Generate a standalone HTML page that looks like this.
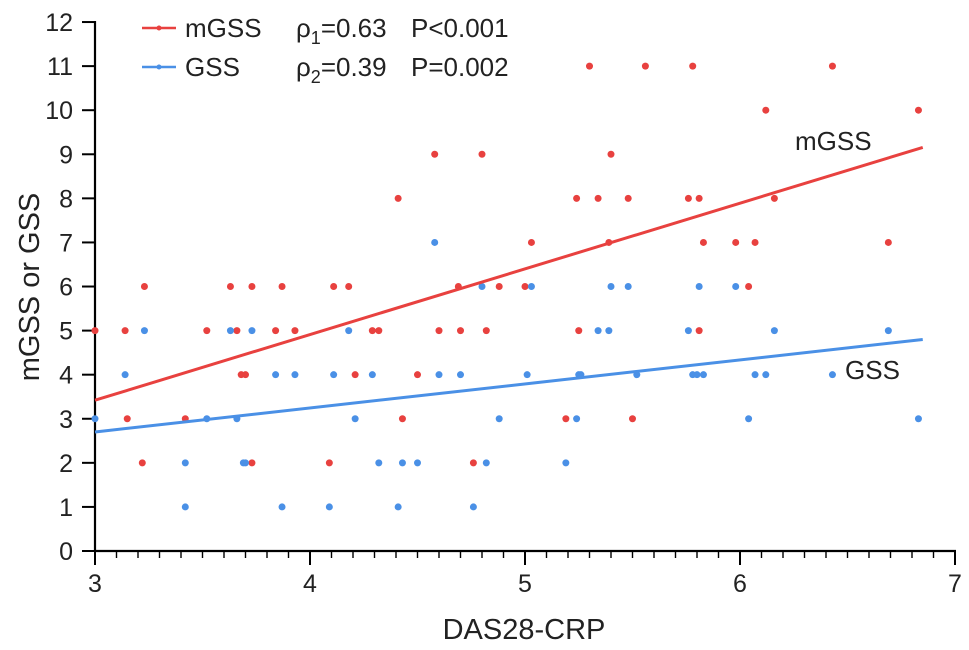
<!DOCTYPE html>
<html><head><meta charset="utf-8"><style>
html,body{margin:0;padding:0;background:#fff;}
svg{display:block;font-family:"Liberation Sans",Arial,sans-serif;}
</style></head><body>
<svg id="chart" width="969" height="650" viewBox="0 0 969 650"></svg>
<script>
const xTicks=[3,4,5,6,7];
const yTicks=[0,1,2,3,4,5,6,7,8,9,10,11,12];
const mgssX=[3.0,3.14,3.15,3.22,3.23,3.42,3.52,3.63,3.66,3.68,3.70,3.73,3.73,3.84,3.87,3.93,4.09,4.11,4.18,4.21,4.29,4.32,4.41,4.43,4.50,4.58,4.60,4.69,4.70,4.76,4.80,4.82,4.88,5.00,5.03,5.19,5.24,5.25,5.30,5.34,5.39,5.40,5.48,5.50,5.56,5.76,5.78,5.81,5.81,5.83,5.98,6.04,6.07,6.12,6.16,6.43,6.69,6.83];
const mgssY=[5,5,3,2,6,3,5,6,5,4,4,6,2,5,6,5,2,6,6,4,5,5,8,3,4,9,5,6,5,2,9,5,6,6,7,3,8,5,11,8,7,9,8,3,11,8,11,8,5,7,7,6,7,10,8,11,7,10];
const gssX=[3.0,3.14,3.23,3.42,3.42,3.52,3.63,3.66,3.69,3.70,3.73,3.84,3.87,3.93,4.09,4.11,4.18,4.21,4.29,4.32,4.41,4.43,4.50,4.58,4.60,4.70,4.76,4.80,4.82,4.88,5.01,5.03,5.19,5.24,5.25,5.26,5.34,5.39,5.40,5.48,5.52,5.76,5.78,5.80,5.81,5.83,5.98,6.04,6.07,6.12,6.16,6.43,6.69,6.83];
const gssY=[3,4,5,2,1,3,5,3,2,2,5,4,1,4,1,4,5,3,4,2,1,2,2,7,4,4,1,6,2,3,4,6,2,3,4,4,5,5,6,6,4,5,4,4,6,4,6,3,4,4,5,4,5,3];
const fitStart=[3.0,6.85];
const mgssFit=[3.42,1.49];
const gssFit=[2.70,0.545];

const NS="http://www.w3.org/2000/svg";
const svg=document.getElementById('chart');
const X0=95,XS=215,Y0=551,YS=44.08;
const sx=v=>X0+(v-3)*XS;
const sy=v=>Y0-v*YS;
function mk(t,a,parent){const e=document.createElementNS(NS,t);for(const k in a)e.setAttribute(k,a[k]);(parent||svg).appendChild(e);return e;}
const RED="#e8413f",BLUE="#4a90e6";

let ax=mk('line',{x1:X0,y1:sy(12)-1,x2:X0,y2:Y0+1,stroke:"#000","stroke-width":2.2});

let axx=mk('line',{x1:X0-1,y1:Y0,x2:sx(7)+1,y2:Y0,stroke:"#000","stroke-width":2.2});

yTicks.forEach(v=>{
  const t=mk('line',{x1:X0-13,y1:sy(v),x2:X0,y2:sy(v),stroke:"#000","stroke-width":2});
  
  const l=mk('text',{x:73,y:sy(v)+9,"text-anchor":"end","font-size":25,fill:"#222"});
  l.textContent=v;
  
});
for(let i=0;i<=40;i++){
  const v=3+i*0.1;const major=i%10===0;
  const t=mk('line',{x1:sx(v),y1:Y0,x2:sx(v),y2:Y0+(major?14:7),stroke:"#000","stroke-width":major?2:1.4});
  
}
xTicks.forEach(v=>{
  const l=mk('text',{x:sx(v),y:592,"text-anchor":"middle","font-size":25,fill:"#222"});
  l.textContent=v;
  
});
const xt=mk('text',{x:524,y:639,"text-anchor":"middle","font-size":29,fill:"#222"});
xt.textContent="DAS28-CRP";

const yt=mk('text',{x:0,y:0,"text-anchor":"middle","font-size":29,fill:"#222",transform:"translate(39,287) rotate(-90)"});
yt.textContent="mGSS or GSS";


mgssX.forEach((x,i)=>{
  const c=mk('circle',{cx:sx(x),cy:sy(mgssY[i]),r:3.5,fill:RED});
  
});
gssX.forEach((x,i)=>{
  const c=mk('circle',{cx:sx(x),cy:sy(gssY[i]),r:3.5,fill:BLUE});
  
});
function fit(coef,col,name){
  const a=fitStart[0],b=fitStart[1];
  const l=mk('line',{x1:sx(a),y1:sy(coef[0]),x2:sx(b),y2:sy(coef[0]+coef[1]*(b-a)),stroke:col,"stroke-width":3});
  
}
fit(mgssFit,RED,'mgss-regression-line');
fit(gssFit,BLUE,'gss-regression-line');

const lm=mk('text',{x:795,y:150,"font-size":26,fill:"#222"});lm.textContent="mGSS";

const lg=mk('text',{x:845,y:379,"font-size":26,fill:"#222"});lg.textContent="GSS";


function legend(y,col,name,rho,sub,p,key){
  const g=mk('g',{});
  
  mk('line',{x1:142,y1:y,x2:176,y2:y,stroke:col,"stroke-width":2.5},g);
  mk('circle',{cx:159,cy:y,r:2.5,fill:col},g);
  const t=mk('text',{x:185,y:y+9,"font-size":26,fill:"#222"},g);t.textContent=name;
  const r=mk('text',{x:296,y:y+9,"font-size":26,fill:"#222"},g);
  r.innerHTML='ρ<tspan font-size="18" dy="7">'+sub+'</tspan><tspan dy="-7">='+rho+'</tspan>';
  const pp=mk('text',{x:411,y:y+9,"font-size":26,fill:"#222"},g);pp.textContent=p;
}
legend(28,RED,"mGSS","0.63","1","P<0.001","mgss");
legend(67,BLUE,"GSS","0.39","2","P=0.002","gss");
</script>
</body></html>
